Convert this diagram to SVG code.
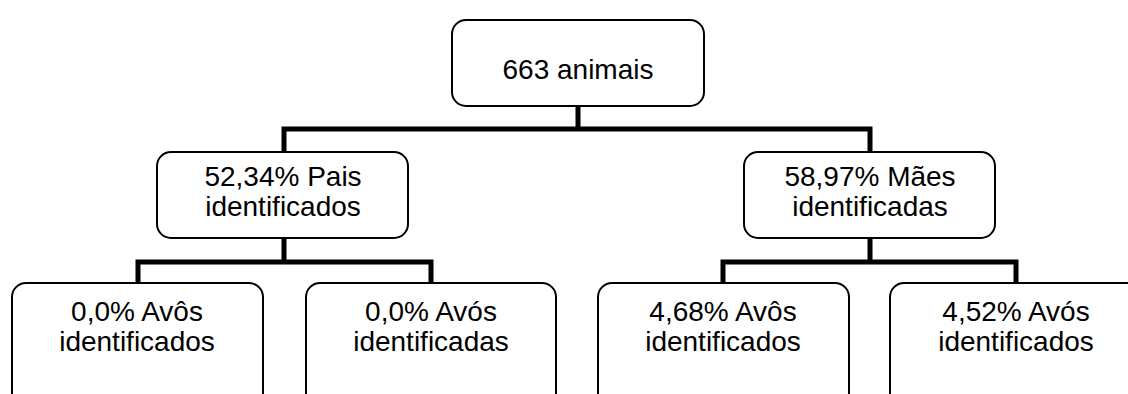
<svg xmlns="http://www.w3.org/2000/svg" width="1128" height="394" viewBox="0 0 1128 394">
<style>
.box{fill:#fff;stroke:#000;stroke-width:2}
.t{font-family:"Liberation Sans",Arial,sans-serif;font-size:28px;fill:#000;text-anchor:middle}
.c{fill:none;stroke:#000;stroke-width:5;stroke-linejoin:miter;stroke-linecap:butt}
</style>
<rect width="1128" height="394" fill="#fff"/>
<g id="connectors">
<path class="c" d="M578 106 V129 M284 152 V129 H870 V152"/>
<path class="c" d="M284 238 V262 M138 283 V262 H431 V283"/>
<path class="c" d="M870 238 V262 M723 283 V262 H1016 V283"/>
</g>
<g id="n0"><rect class="box" x="452" y="20" width="252" height="86" rx="14"/><text class="t" x="578" y="79">663 animais</text></g>
<g id="n1"><rect class="box" x="157" y="152" width="251" height="86" rx="14"/><text class="t" x="283" y="186">52,34% Pais</text><text class="t" x="283" y="216">identificados</text></g>
<g id="n2"><rect class="box" x="744" y="152" width="251" height="86" rx="14"/><text class="t" x="870" y="186">58,97% Mães</text><text class="t" x="870" y="216">identificadas</text></g>
<g id="n3"><rect class="box" x="12" y="283" width="251" height="130" rx="14"/><text class="t" x="137" y="321">0,0% Avôs</text><text class="t" x="137" y="351">identificados</text></g>
<g id="n4"><rect class="box" x="306" y="283" width="250" height="130" rx="14"/><text class="t" x="431" y="321">0,0% Avós</text><text class="t" x="431" y="351">identificadas</text></g>
<g id="n5"><rect class="box" x="598" y="283" width="251" height="130" rx="14"/><text class="t" x="723" y="321">4,68% Avôs</text><text class="t" x="723" y="351">identificados</text></g>
<g id="n6"><rect class="box" x="890" y="283" width="251" height="130" rx="14"/><text class="t" x="1016" y="321">4,52% Avós</text><text class="t" x="1016" y="351">identificados</text></g>
</svg>
